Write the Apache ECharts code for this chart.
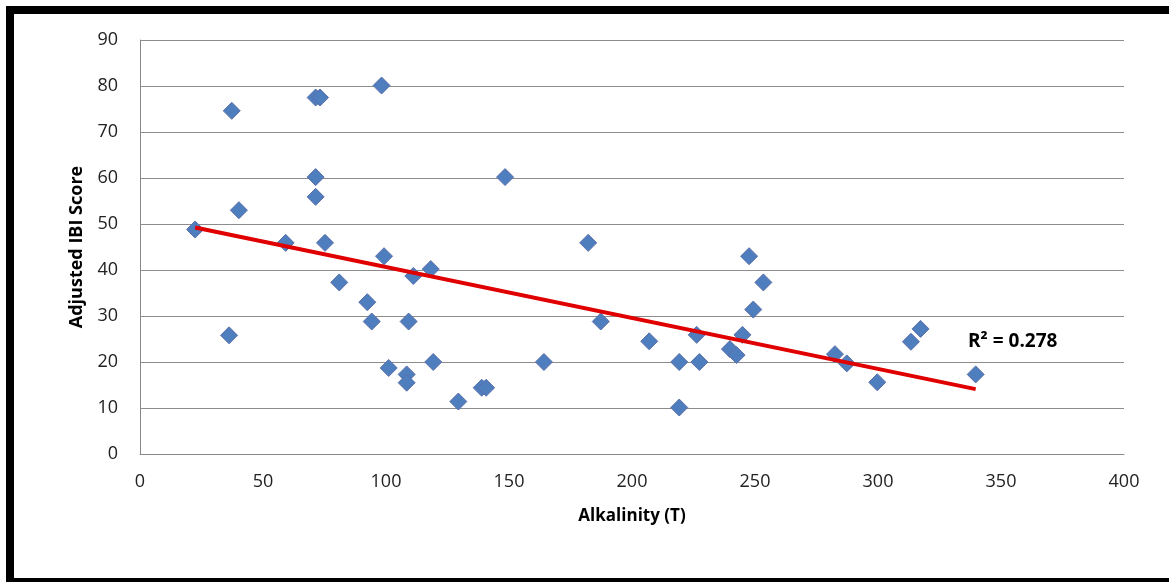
<!DOCTYPE html>
<html>
<head>
<meta charset="utf-8">
<script src="https://cdn.jsdelivr.net/npm/echarts@6/dist/echarts.min.js"></script>
<style>
html,body{margin:0;padding:0;background:#fff;overflow:hidden;}
#chart{position:absolute;left:0;top:0;width:1169px;height:582px;}
#frame{position:absolute;left:6px;top:6px;width:1200px;height:564px;border-left:8px solid #000;border-top:8px solid #000;border-bottom:8px solid #000;pointer-events:none;}
</style>
</head>
<body>
<div id="chart"></div>
<div id="frame"></div>
<script>
// Data
const alkalinity = [22.4, 37.3, 36.2, 40.2, 59.2, 71.4, 73.2, 71.4, 71.4, 75.2, 81, 98.2, 92.4, 94.2, 99.2, 101.1, 108.4, 108.4, 109.2, 111.1, 118.2, 119.2, 129.4, 138.9, 140.7, 148.4, 164.2, 182.2, 187.3, 207, 219.2, 219.2, 226.3, 227.4, 239.8, 242.5, 244.9, 247.6, 249.3, 253.4, 282.5, 287.3, 299.7, 313.4, 317.3, 339.7];
const ibiScore = [48.8, 74.6, 25.8, 53, 45.9, 77.5, 77.5, 60.2, 55.9, 45.9, 37.3, 80.1, 33, 28.8, 43, 18.7, 17.3, 15.5, 28.8, 38.7, 40.2, 20, 11.4, 14.4, 14.4, 60.2, 20, 45.9, 28.8, 24.5, 20, 10.1, 25.9, 20, 22.8, 21.5, 25.9, 43, 31.4, 37.3, 21.7, 19.7, 15.6, 24.4, 27.2, 17.3];
const xTicks = [0, 50, 100, 150, 200, 250, 300, 350, 400];
const yTicks = [0, 10, 20, 30, 40, 50, 60, 70, 80, 90];
const r2Label = 'R² = 0.278';
const xTitle = 'Alkalinity (T)';
const yTitle = 'Adjusted IBI Score';

// Linear trend (least squares) computed from the data
const n = alkalinity.length;
const mx = alkalinity.reduce((a, b) => a + b, 0) / n;
const my = ibiScore.reduce((a, b) => a + b, 0) / n;
let sxy = 0, sxx = 0;
for (let i = 0; i < n; i++) { sxy += (alkalinity[i] - mx) * (ibiScore[i] - my); sxx += (alkalinity[i] - mx) ** 2; }
const slope = sxy / sxx, intercept = my - slope * mx;
const xMin = Math.min(...alkalinity), xMax = Math.max(...alkalinity);
const trend = [[xMin, intercept + slope * xMin], [xMax, intercept + slope * xMax]];

const font = "'Open Sans', sans-serif";
const chart = echarts.init(document.getElementById('chart'));
chart.setOption({
  animation: false,
  backgroundColor: '#fff',
  grid: { left: 140, right: 45, top: 40, bottom: 128 },
  xAxis: {
    type: 'value', min: xTicks[0], max: xTicks[xTicks.length - 1], interval: 50,
    name: xTitle, nameLocation: 'middle', nameGap: 54,
    nameTextStyle: { fontFamily: font, fontWeight: 'bold', fontSize: 17, color: '#000' },
    axisLine: { show: true, lineStyle: { color: '#888', width: 1 } },
    axisTick: { show: false },
    axisLabel: { fontFamily: font, fontSize: 18, color: '#222', margin: 19 },
    splitLine: { show: false }
  },
  yAxis: {
    type: 'value', min: yTicks[0], max: yTicks[yTicks.length - 1], interval: 10,
    name: yTitle, nameLocation: 'middle', nameGap: 54, nameRotate: 90,
    nameTextStyle: { fontFamily: font, fontWeight: 'bold', fontSize: 18, color: '#000' },
    axisLine: { show: true, lineStyle: { color: '#888', width: 1 } },
    axisTick: { show: false },
    axisLabel: { fontFamily: font, fontSize: 18, color: '#222', margin: 22 },
    splitLine: { show: true, lineStyle: { color: '#8c8c8c', width: 1 } }
  },
  series: [
    {
      type: 'scatter', symbol: 'diamond', symbolSize: 17,
      data: alkalinity.map((x, i) => [x, ibiScore[i]]),
      itemStyle: { color: '#4F7EBE', borderColor: '#5B6FA8', borderWidth: 1, opacity: 1 },
      z: 3
    },
    {
      type: 'line', data: trend, symbol: 'none', silent: true,
      lineStyle: { color: '#E00000', width: 4 },
      z: 4
    }
  ]
});
const pos = chart.convertToPixel({ gridIndex: 0 }, [336.6, 24.6]);
chart.setOption({
  graphic: [{
    type: 'text', left: pos[0], top: pos[1] - 9,
    style: { text: r2Label, fontFamily: font, fontWeight: 'bold', fontSize: 19, fill: '#000' }
  }]
});
</script>
</body>
</html>
